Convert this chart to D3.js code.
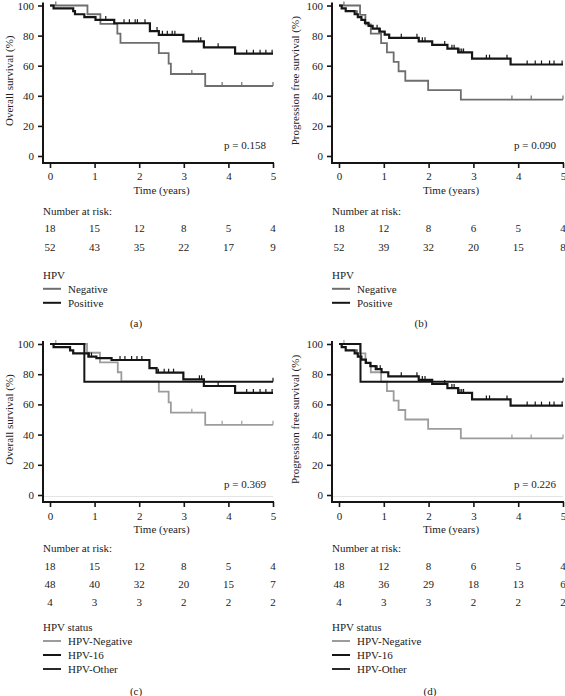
<!DOCTYPE html>
<html>
<head>
<meta charset="utf-8">
<script src="https://cdn.jsdelivr.net/npm/d3@7"></script>
<style>
  html, body { margin: 0; padding: 0; background: #fff; }
  svg { display: block; }
  text { font-family: "Liberation Serif", "Times New Roman", serif; fill: #222; }
</style>
</head>
<body>
<svg id="chart" width="565" height="696"></svg>
<script>
// ---------------- DATA ----------------
const timeTicks = [0, 1, 2, 3, 4, 5];
const survTicks = [0, 20, 40, 60, 80, 100];

// Panel (a) – overall survival by HPV
const aNegSteps = [[0,100],[0.84,94.2],[1.13,87.8],[1.51,81.3],[1.58,75.2],[2.44,68.4],[2.66,61.4],[2.71,54.5],[3.48,46.5]];
const aNegCensor = [0.13, 3.18, 3.86, 4.30, 5.0];
const aPosSteps = [[0,100],[0.08,98.1],[0.52,96.2],[0.56,94.2],[0.77,92.3],[1.02,90.4],[1.44,88.2],[2.24,83.0],[2.44,80.5],[2.99,76.2],[3.45,72.2],[4.15,68.0]];
const aPosCensor = [1.25, 1.66, 1.78, 1.91, 1.96, 2.13, 2.40, 2.52, 2.63, 2.74, 2.80, 3.33, 3.38, 3.77, 4.41, 4.56, 4.71, 4.84, 4.98];
const aRisk = [[18, 15, 12, 8, 5, 4], [52, 43, 35, 22, 17, 9]];

// Panel (b) – progression free survival by HPV
const bNegSteps = [[0,100],[0.47,93.8],[0.59,87.5],[0.71,81.3],[0.94,75.0],[1.07,68.8],[1.22,62.5],[1.33,56.3],[1.48,50.0],[1.99,43.8],[2.72,37.5]];
const bNegCensor = [0.11, 3.86, 4.29, 5.0];
const bPosSteps = [[0,100],[0.06,98.1],[0.15,96.2],[0.35,94.2],[0.42,92.3],[0.50,90.4],[0.58,88.5],[0.66,86.5],[0.75,84.6],[0.90,82.6],[1.02,80.7],[1.12,78.5],[1.78,76.2],[2.08,73.8],[2.42,71.3],[2.66,68.8],[2.97,64.7],[3.83,60.8]];
const bPosCensor = [0.40, 0.85, 0.92, 1.39, 1.74, 1.86, 1.92, 2.36, 2.52, 2.57, 2.70, 2.74, 2.78, 3.29, 3.36, 3.75, 4.20, 4.38, 4.52, 4.70, 4.80, 4.98];
const bRisk = [[18, 12, 8, 6, 5, 4], [52, 39, 32, 20, 15, 8]];

// Panel (c) – overall survival by HPV status
const cNegSteps = [[0,100],[0.83,94.2],[1.12,87.8],[1.52,81.3],[1.60,75.2],[2.44,68.4],[2.66,61.4],[2.71,54.5],[3.48,46.5]];
const cNegCensor = [0.13, 3.18, 3.86, 4.30, 5.0];
const c16Steps = [[0,100],[0.08,97.9],[0.45,95.8],[0.52,93.8],[0.86,91.7],[1.04,90.6],[1.38,89.4],[2.23,84.0],[2.39,81.0],[2.99,76.6],[3.45,72.2],[4.15,67.6]];
const c16Censor = [0.88, 0.93, 1.57, 1.68, 1.83, 1.95, 2.06, 2.43, 2.56, 2.66, 2.77, 3.35, 3.40, 3.77, 4.41, 4.56, 4.71, 4.84, 4.98];
const cOtherSteps = [[0,100],[0.77,75.0]];
const cOtherCensor = [5.0];
const cRisk = [[18, 15, 12, 8, 5, 4], [48, 40, 32, 20, 15, 7], [4, 3, 3, 2, 2, 2]];

// Panel (d) – progression free survival by HPV status
const dNegSteps = [[0,100],[0.47,93.8],[0.59,87.5],[0.71,81.3],[0.94,75.0],[1.07,68.8],[1.22,62.5],[1.33,56.3],[1.48,50.0],[1.99,43.8],[2.72,37.5]];
const dNegCensor = [0.11, 3.86, 4.29, 5.0];
const d16Steps = [[0,100],[0.06,97.9],[0.15,95.8],[0.35,93.8],[0.42,91.7],[0.50,89.6],[0.60,87.5],[0.70,85.4],[0.82,83.3],[0.95,81.3],[1.10,78.6],[1.78,76.2],[2.08,73.5],[2.42,70.8],[2.66,67.6],[2.97,63.3],[3.83,59.2]];
const d16Censor = [0.40, 0.85, 0.92, 1.39, 1.74, 1.86, 1.92, 2.36, 2.52, 2.57, 2.70, 2.74, 2.78, 3.29, 3.36, 3.75, 4.20, 4.38, 4.52, 4.70, 4.80, 4.98];
const dOtherSteps = [[0,100],[0.48,75.0]];
const dOtherCensor = [5.0];
const dRisk = [[18, 12, 8, 6, 5, 4], [48, 36, 29, 18, 13, 6], [4, 3, 3, 2, 2, 2]];

const legendTitles = ["HPV", "HPV", "HPV status", "HPV status"];
const legendHPV = ["Negative", "Positive"];
const legendStatus = ["HPV-Negative", "HPV-16", "HPV-Other"];
const yTitles = ["Overall survival (%)", "Progression free survival (%)", "Overall survival (%)", "Progression free survival (%)"];
const xTitle = "Time (years)";
const riskTitle = "Number at risk:";
const pValues = ["p = 0.158", "p = 0.090", "p = 0.369", "p = 0.226"];
const captions = ["(a)", "(b)", "(c)", "(d)"];

// ---------------- STYLES / LAYOUT ----------------
const BLACK = "#151515", GRAY = "#6e6e6e", LIGHT = "#9c9c9c";
const FS = 11;

const svg = d3.select("#chart");

const panels = [
  { ax: 43,  x0: 50,  x1: 273, top: 5.5, bot: 156, axisY: 163, yLab: 9,   cap: 136,
    curves: [{s: aNegSteps, c: aNegCensor, col: GRAY, w: 1.8}, {s: aPosSteps, c: aPosCensor, col: BLACK, w: 2.2}],
    risk: aRisk, legend: legendHPV, legCols: [GRAY, BLACK], three: false },
  { ax: 332, x0: 339, x1: 563, top: 5.5, bot: 156, axisY: 163, yLab: 295, cap: 421,
    curves: [{s: bNegSteps, c: bNegCensor, col: GRAY, w: 1.8}, {s: bPosSteps, c: bPosCensor, col: BLACK, w: 2.2}],
    risk: bRisk, legend: legendHPV, legCols: [GRAY, BLACK], three: false },
  { ax: 43,  x0: 50,  x1: 273, top: 344, bot: 495, axisY: 502, yLab: 9,   cap: 136,
    curves: [{s: cNegSteps, c: cNegCensor, col: LIGHT, w: 1.8}, {s: cOtherSteps, c: cOtherCensor, col: BLACK, w: 2.0}, {s: c16Steps, c: c16Censor, col: BLACK, w: 2.2}],
    risk: cRisk, legend: legendStatus, legCols: [LIGHT, BLACK, "#2a2a2a"], three: true },
  { ax: 332, x0: 339, x1: 563, top: 344, bot: 495, axisY: 502, yLab: 295, cap: 430,
    curves: [{s: dNegSteps, c: dNegCensor, col: LIGHT, w: 1.8}, {s: dOtherSteps, c: dOtherCensor, col: BLACK, w: 2.0}, {s: d16Steps, c: d16Censor, col: BLACK, w: 2.2}],
    risk: dRisk, legend: legendStatus, legCols: [LIGHT, BLACK, "#2a2a2a"], three: true }
];

function valueAt(steps, t) {
  let v = steps[0][1];
  for (const s of steps) { if (s[0] <= t) v = s[1]; }
  return v;
}

function txt(g, x, y, s, anchor) {
  return g.append("text").attr("x", x).attr("y", y).attr("dy", "0.35em")
    .attr("text-anchor", anchor || "start").attr("font-size", FS).text(s);
}

panels.forEach((p, i) => {
  const x = d3.scaleLinear().domain([0, 5]).range([p.x0, p.x1]);
  const y = d3.scaleLinear().domain([0, 100]).range([p.bot, p.top]);
  const g = svg.append("g");

  // faint baseline artefact in lower panels
  if (p.three) {
    g.append("line").attr("x1", p.ax).attr("x2", p.x1).attr("y1", y(0) + 1.5).attr("y2", y(0) + 1.5)
      .attr("stroke", "#e4e4e4").attr("stroke-width", 1.2);
  }

  // Y axis
  const yAxis = d3.axisLeft(y).tickValues(survTicks).tickSize(5).tickPadding(4).tickSizeOuter(0);
  const yg = g.append("g").attr("transform", `translate(${p.ax},0)`).call(yAxis);
  yg.select(".domain").remove();
  yg.selectAll(".tick line").attr("stroke", BLACK).attr("stroke-width", 1.6);
  yg.selectAll(".tick text").attr("font-size", FS).attr("font-family", "Liberation Serif").attr("fill", "#222");
  g.append("line").attr("x1", p.ax).attr("x2", p.ax).attr("y1", p.top - 3).attr("y2", p.axisY + 1)
    .attr("stroke", BLACK).attr("stroke-width", 2);

  // X axis
  const xAxis = d3.axisBottom(x).tickValues(timeTicks).tickSize(5).tickPadding(3).tickSizeOuter(0).tickFormat(d3.format("d"));
  const xg = g.append("g").attr("transform", `translate(0,${p.axisY})`).call(xAxis);
  xg.select(".domain").remove();
  xg.selectAll(".tick line").attr("stroke", BLACK).attr("stroke-width", 1.6);
  xg.selectAll(".tick text").attr("font-size", FS).attr("font-family", "Liberation Serif").attr("fill", "#222")
    .attr("y", 0).attr("dy", "0.35em").attr("transform", `translate(0,${p.three ? 14 : 13})`);
  g.append("line").attr("x1", p.ax).attr("x2", p.x1 + 1).attr("y1", p.axisY).attr("y2", p.axisY)
    .attr("stroke", BLACK).attr("stroke-width", 2);

  // Y title
  g.append("text").attr("transform", `translate(${p.yLab},${(p.top + p.bot) / 2}) rotate(-90)`)
    .attr("dy", "0.35em").attr("text-anchor", "middle").attr("font-size", FS).text(yTitles[i]);

  // curves
  const line = d3.line().x(d => x(d[0])).y(d => y(d[1])).curve(d3.curveStepAfter);
  p.curves.forEach(c => {
    const pts = c.s.concat([[5, c.s[c.s.length - 1][1]]]);
    g.append("path").attr("d", line(pts)).attr("fill", "none")
      .attr("stroke", c.col).attr("stroke-width", c.w).attr("stroke-linejoin", "miter");
    g.selectAll(null).data(c.c).enter().append("line")
      .attr("x1", d => x(d)).attr("x2", d => x(d))
      .attr("y1", d => y(valueAt(c.s, d))).attr("y2", d => y(valueAt(c.s, d)) - 4)
      .attr("stroke", c.col).attr("stroke-width", 1.2);
  });

  // p value
  txt(g, p.x1 - 7, y(0) - 11, pValues[i], "end");

  // x title
  const mid = (x(0) + x(5)) / 2;
  txt(g, mid, p.axisY + 27.5, xTitle, "middle");

  // risk table
  const riskTitleY = p.axisY + (p.three ? 45.7 : 47.7);
  txt(g, p.ax, riskTitleY, riskTitle, "start");
  const rowStart = p.axisY + (p.three ? 64.5 : 65.3);
  const rowGap = p.three ? 17.9 : 18.4;
  p.risk.forEach((row, r) => {
    row.forEach((n, k) => txt(g, x(timeTicks[k]), rowStart + r * rowGap, String(n), "middle"));
  });

  // legend
  const legTitleY = p.three ? p.axisY + 125.5 : p.axisY + 112.3;
  txt(g, p.ax, legTitleY, legendTitles[i], "start");
  p.legend.forEach((name, k) => {
    const ly = legTitleY + 13.5 + k * 14;
    g.append("line").attr("x1", p.ax).attr("x2", p.ax + 18).attr("y1", ly).attr("y2", ly)
      .attr("stroke", p.legCols[k]).attr("stroke-width", 2);
    txt(g, p.ax + 25, ly, name, "start");
  });

  // caption
  const capY = p.three ? p.axisY + 189 : p.axisY + 160.3;
  txt(g, p.cap, capY, captions[i], "middle");
});
</script>
</body>
</html>
